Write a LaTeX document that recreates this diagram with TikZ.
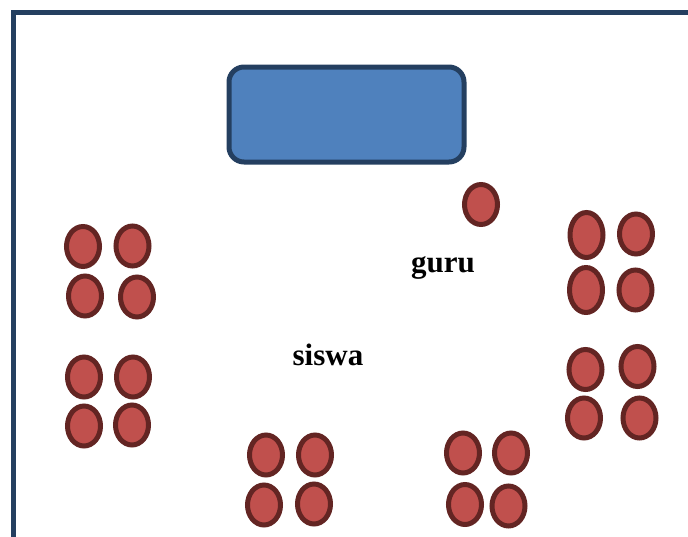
\documentclass[tikz,border=0pt]{standalone}
\usepackage{fontspec}
\setmainfont{Liberation Serif}
\definecolor{framecol}{HTML}{243F60}
\definecolor{deskfill}{HTML}{4F81BD}
\definecolor{seatfill}{HTML}{C0504D}
\definecolor{seatline}{HTML}{632523}
\usetikzlibrary{shapes.geometric}
\tikzset{
  seat/.style={ellipse, draw=seatline, fill=seatfill, line width=5pt,
    minimum width=33pt, minimum height=40pt, inner sep=0pt, outer sep=0pt},
  tallseat/.style={seat, minimum height=45pt},
  desk/.style={draw=framecol, fill=deskfill, line width=5pt, rounded corners=15pt},
  label/.style={font=\fontsize{31}{31}\selectfont\bfseries, anchor=base}
}
\begin{document}
\begin{tikzpicture}[x=1pt, y=-1pt]
\useasboundingbox (0,0) rectangle (688,536);
% classroom walls
\coordinate (wallbottom) at (13,540);
\coordinate (wallcorner) at (13,12.5);
\coordinate (wallright) at (692,12.5);
\draw[framecol, line width=5pt] (wallbottom) -- (wallcorner) -- (wallright);
% teacher's desk
\draw[desk] (229,67) rectangle (464,162);
% teacher's chair
\node[seat] (guruchair) at (481,204.5) {};
% left seats
\node[seat] (l1) at (83,246.5) {};
\node[seat] (l2) at (132.5,246) {};
\node[seat] (l3) at (85,296) {};
\node[seat] (l4) at (137,297) {};
\node[seat] (l5) at (84,377) {};
\node[seat] (l6) at (133,377) {};
\node[seat] (l7) at (84,426) {};
\node[seat] (l8) at (132,425) {};
% bottom seats
\node[seat] (b1) at (266,455) {};
\node[seat] (b2) at (315,455) {};
\node[seat] (b3) at (264,505) {};
\node[seat] (b4) at (314,504) {};
\node[seat] (b5) at (463,453) {};
\node[seat] (b6) at (511,453) {};
\node[seat] (b7) at (465,504.5) {};
\node[seat] (b8) at (508.5,506) {};
% right seats
\node[tallseat] (r1) at (586.5,235) {};
\node[seat] (r2) at (636,234) {};
\node[tallseat] (r3) at (586,290) {};
\node[seat] (r4) at (635.5,290) {};
\node[seat] (r5) at (585.5,369.5) {};
\node[seat] (r6) at (637.5,366.5) {};
\node[seat] (r7) at (584,418) {};
\node[seat] (r8) at (639.5,418) {};
% labels
\node[label] (guru) at (443,272) {guru};
\node[label] (siswa) at (328,365) {siswa};
\end{tikzpicture}
\end{document}
